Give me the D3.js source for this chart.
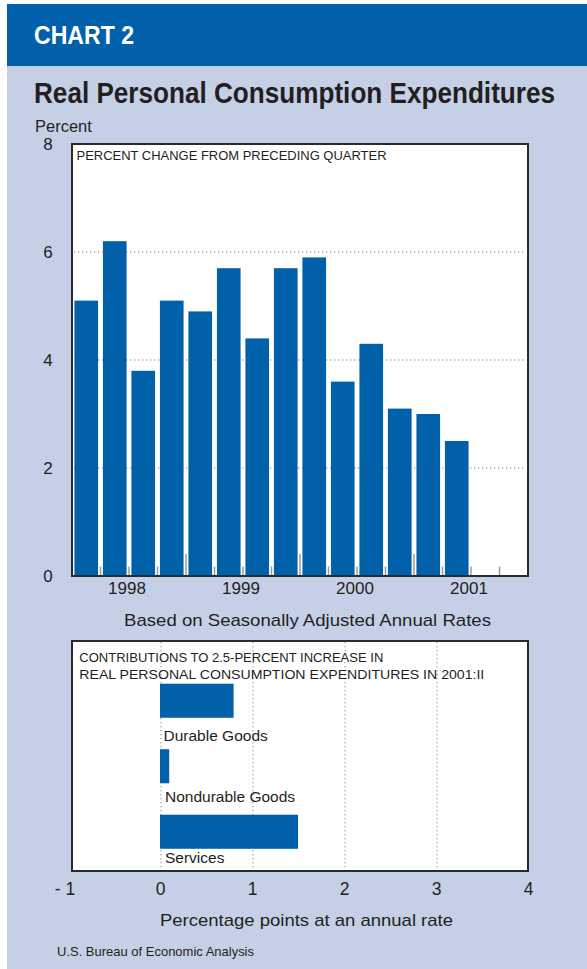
<!DOCTYPE html>
<html>
<head>
<meta charset="utf-8">
<script src="https://cdn.jsdelivr.net/npm/d3@7"></script>
<style>
  html, body { margin: 0; padding: 0; background: #fff; }
  svg { display: block; }
  text { font-family: "Liberation Sans", Arial, Helvetica, sans-serif; fill: #231f20; }
</style>
</head>
<body>
<svg id="chart" width="587" height="969"></svg>
<script>
// Real PCE, percent change from preceding quarter (annual rate)
const quarters = ["1998:I","1998:II","1998:III","1998:IV",
                  "1999:I","1999:II","1999:III","1999:IV",
                  "2000:I","2000:II","2000:III","2000:IV",
                  "2001:I","2001:II","2001:III","2001:IV"];
const pceChange = [5.1, 6.2, 3.8, 5.1, 4.9, 5.7, 4.4, 5.7, 5.9, 3.6, 4.3, 3.1, 3.0, 2.5];
const years = ["1998", "1999", "2000", "2001"];
const yTicks = [0, 2, 4, 6, 8];

// Contributions to the 2001:II increase, percentage points
const components = ["Durable Goods", "Nondurable Goods", "Services"];
const contributions = [0.8, 0.1, 1.5];
const xTicks = [-1, 0, 1, 2, 3, 4];
const xTickLabels = ["- 1", "0", "1", "2", "3", "4"];

const BLUE = "#0061aa";
const PALE = "#c5d0e7";

const svg = d3.select("#chart");

// page panels
svg.append("rect").attr("x", 7).attr("y", 4).attr("width", 580).attr("height", 965).attr("fill", PALE);
svg.append("rect").attr("x", 7).attr("y", 4).attr("width", 580).attr("height", 62).attr("fill", BLUE);

svg.append("text").attr("x", 34).attr("y", 43.5)
  .attr("font-size", 25).attr("font-weight", "bold").style("fill", "#fff")
  .attr("textLength", 100).attr("lengthAdjust", "spacingAndGlyphs")
  .text("CHART 2");

// condensed-looking title: narrower face size, stretched vertically
svg.append("text").attr("transform", "translate(34,103) scale(1,1.1)")
  .attr("font-size", 26).attr("font-weight", "bold")
  .attr("textLength", 521).attr("lengthAdjust", "spacingAndGlyphs")
  .text("Real Personal Consumption Expenditures");

svg.append("text").attr("x", 35).attr("y", 131.5)
  .attr("font-size", 16.5).text("Percent");

// ---------- upper panel: quarterly bars ----------
const upper = { x0: 72, x1: 528, y0: 144, y1: 576 };

const x = d3.scaleBand().domain(quarters).range([upper.x0, upper.x1])
  .paddingInner(0.17).paddingOuter(0.085);
const y = d3.scaleLinear().domain([0, 8]).range([upper.y1, upper.y0]);

svg.append("rect").attr("x", upper.x0).attr("y", upper.y0)
  .attr("width", upper.x1 - upper.x0).attr("height", upper.y1 - upper.y0).attr("fill", "#fff");

svg.append("g").selectAll("rect").data(pceChange).join("rect")
  .attr("x", (d, i) => x(quarters[i]))
  .attr("width", x.bandwidth())
  .attr("y", d => y(d))
  .attr("height", d => y(0) - y(d))
  .attr("fill", BLUE);

// dotted reference lines, drawn over the bars
svg.append("g").selectAll("line").data(yTicks.filter(v => v > 0 && v < 8)).join("line")
  .attr("x1", upper.x0 + 2).attr("x2", upper.x1 - 2)
  .attr("y1", d => y(d)).attr("y2", d => y(d))
  .attr("stroke", "#4a4a4a").attr("stroke-opacity", 0.7)
  .attr("stroke-width", 1.2).attr("stroke-dasharray", "1.3,2.7");

// quarter separators; year boundaries are taller
const gap = x.step() - x.bandwidth();
svg.append("g").selectAll("line").data(quarters.slice(1)).join("line")
  .attr("x1", d => x(d) - gap / 2).attr("x2", d => x(d) - gap / 2)
  .attr("y1", (d, i) => (i + 1) % 4 === 0 ? upper.y1 - 22 : upper.y1 - 9.5)
  .attr("y2", upper.y1)
  .attr("stroke", "#9a9a9a").attr("stroke-width", 1.5);

svg.append("rect").attr("x", upper.x0).attr("y", upper.y0)
  .attr("width", upper.x1 - upper.x0).attr("height", upper.y1 - upper.y0)
  .attr("fill", "none").attr("stroke", "#2b2b2b").attr("stroke-width", 2);

svg.append("g").selectAll("text").data(yTicks).join("text")
  .attr("x", 48).attr("y", d => y(d)).attr("dy", "0.36em")
  .attr("text-anchor", "middle").attr("font-size", 17)
  .text(d => d);

svg.append("g").selectAll("text").data(years).join("text")
  .attr("x", (d, i) => (x(quarters[i * 4]) + x(quarters[i * 4 + 3]) + x.bandwidth()) / 2 - 2)
  .attr("y", 594).attr("text-anchor", "middle").attr("font-size", 17)
  .text(d => d);

svg.append("text").attr("x", 76.5).attr("y", 159.5)
  .attr("font-size", 13.5).attr("textLength", 310).attr("lengthAdjust", "spacingAndGlyphs")
  .text("PERCENT CHANGE FROM PRECEDING QUARTER");

svg.append("text").attr("x", 307.5).attr("y", 625.5)
  .attr("text-anchor", "middle").attr("font-size", 17)
  .attr("textLength", 367).attr("lengthAdjust", "spacingAndGlyphs")
  .text("Based on Seasonally Adjusted Annual Rates");

// ---------- lower panel: contributions ----------
const lower = { x0: 72, x1: 528, y0: 641, y1: 871 };

const xc = d3.scaleLinear().domain([-1, 4]).range([70, 530]);
const yc = d3.scaleBand().domain(components).range([668, 864.5])
  .paddingInner(0.48).paddingOuter(0.24);
const yLabel = d3.scalePoint().domain(components).range([740.5, 862.5]);

svg.append("rect").attr("x", lower.x0).attr("y", lower.y0)
  .attr("width", lower.x1 - lower.x0).attr("height", lower.y1 - lower.y0).attr("fill", "#fff");

svg.append("g").selectAll("line").data(xTicks.filter(v => v >= 0 && v < 4)).join("line")
  .attr("x1", d => xc(d) - 1).attr("x2", d => xc(d) - 1)
  .attr("y1", lower.y0 + 1).attr("y2", lower.y1)
  .attr("stroke", "#8a8a8a").attr("stroke-width", 1).attr("stroke-dasharray", "1.3,2.7");

svg.append("g").selectAll("rect").data(contributions).join("rect")
  .attr("x", xc(0) - 2)
  .attr("width", d => xc(d) - xc(0))
  .attr("y", (d, i) => yc(components[i]))
  .attr("height", yc.bandwidth())
  .attr("fill", BLUE);

svg.append("g").selectAll("text").data(components).join("text")
  .attr("x", (d, i) => i === 0 ? 163.5 : 165)
  .attr("y", d => yLabel(d))
  .attr("font-size", 15.5)
  .text(d => d);

svg.append("text").attr("x", 79.3).attr("y", 661.5)
  .attr("font-size", 13.5).attr("textLength", 304).attr("lengthAdjust", "spacingAndGlyphs")
  .text("CONTRIBUTIONS TO 2.5-PERCENT INCREASE IN");
svg.append("text").attr("x", 79.3).attr("y", 678.5)
  .attr("font-size", 13.5).attr("textLength", 405).attr("lengthAdjust", "spacingAndGlyphs")
  .text("REAL PERSONAL CONSUMPTION EXPENDITURES IN 2001:II");

svg.append("rect").attr("x", lower.x0).attr("y", lower.y0)
  .attr("width", lower.x1 - lower.x0).attr("height", lower.y1 - lower.y0)
  .attr("fill", "none").attr("stroke", "#2b2b2b").attr("stroke-width", 2);

svg.append("g").selectAll("text").data(xTicks).join("text")
  .attr("x", (d, i) => d === -1 ? 65 : xc(d) - 1.5)
  .attr("y", 895).attr("text-anchor", "middle").attr("font-size", 17.5)
  .text((d, i) => xTickLabels[i]);

svg.append("text").attr("x", 306.5).attr("y", 925.5)
  .attr("text-anchor", "middle").attr("font-size", 17)
  .attr("textLength", 293).attr("lengthAdjust", "spacingAndGlyphs")
  .text("Percentage points at an annual rate");

svg.append("text").attr("x", 57).attr("y", 956)
  .attr("font-size", 13).attr("textLength", 197).attr("lengthAdjust", "spacingAndGlyphs")
  .text("U.S. Bureau of Economic Analysis");
</script>
</body>
</html>
